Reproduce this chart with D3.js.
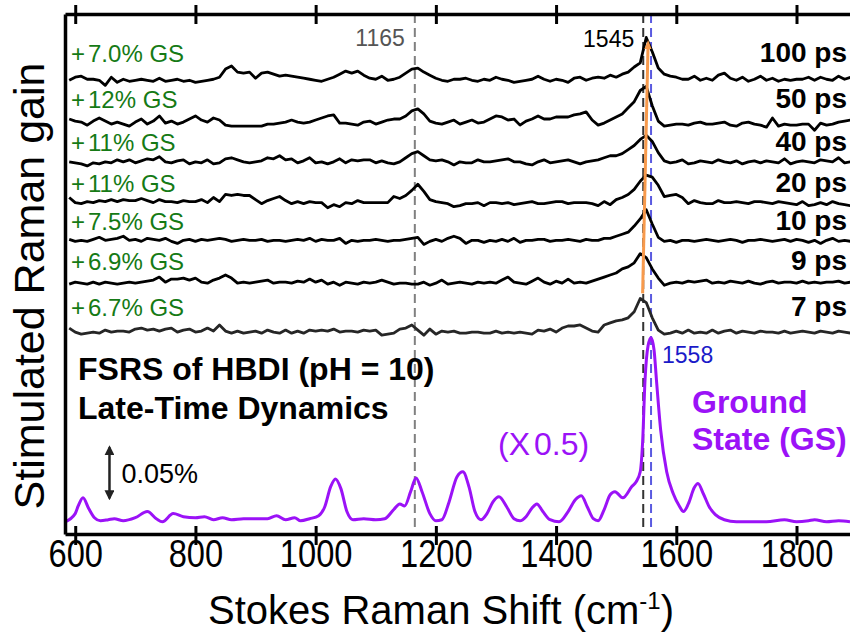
<!DOCTYPE html>
<html>
<head>
<meta charset="utf-8">
<script src="https://cdn.jsdelivr.net/npm/d3@7"></script>
<style>
  body { margin: 0; background: #fff; }
  text { font-family: "Liberation Sans", Arial, Helvetica, sans-serif; }
</style>
</head>
<body>
<svg id="chart" width="850" height="640"></svg>
<script>
// ---- data -------------------------------------------------------------
// Raman shift sampling grid (cm^-1) shared by the transient spectra
const shiftGrid = d3.range(590, 1891, 10);

// delay labels, top to bottom
const delays = ["100 ps", "50 ps", "40 ps", "20 ps", "10 ps", "9 ps", "7 ps"];
// ground-state fraction added back to each transient spectrum
const gsAdded = ["+7.0% GS", "+12% GS", "+11% GS", "+11% GS", "+7.5% GS", "+6.9% GS", "+6.7% GS"];
// vertical stacking offsets (gain, 10^-3 %)
const offsets = [433, 392, 352, 313, 275, 234, 185];
// gain level at which each row's labels sit
const labelLevel = [451, 406, 364, 323, 286, 247, 202];

// transient spectra, gain in 10^-3 %, one value per grid point (590 ... 1890)
const t100 = [
  0, 3, 4, 1, 1, 0, -5, 3, -2, 1,
  -1, 0, 1, 0, -1, 2, -1, 0, 1, -1,
  0, -2, -1, 0, 1, 3, 11, 14, 8, 7,
  8, 2, 7, 8, 6, 4, 5, 4, 3, 2,
  1, 0, -1, 1, 3, 6, 9, 7, 9, 5,
  2, 1, 4, 0, 1, 3, 7, 11, 12, 8,
  5, 2, 0, -1, 1, 1, 2, 0, -1, 1,
  0, 3, 1, 0, -2, -1, 0, 1, 4, 1,
  -1, 1, 0, -2, 2, 3, 0, 2, 3, 2,
  5, 3, 6, 8, 13, 17, 42, 28, 12, 6,
  4, 3, 1, 1, 4, 0, 2, 0, 5, 7,
  2, 0, 3, -1, 1, 4, 0, 2, -1, 1,
  0, 1, 1, 3, 0, 3, 1, 0, 4, 1,
  3
];
const t50 = [
  3, 1, 0, -3, 1, 4, 1, -2, 0, -2,
  -4, 0, 3, -2, 1, 6, -1, 1, -2, 0,
  3, 6, 2, 0, 4, 2, -3, -4, -4, -4,
  -4, -4, -4, -2, -2, -1, 0, 2, 0, -1,
  0, 2, 4, 6, 7, -1, -1, -2, -3, 0,
  1, -2, 0, 2, 3, 3, 6, 11, 13, 8,
  1, -1, -2, 0, 2, -2, 0, 2, -1, 0,
  3, 6, 5, 2, 3, -3, 1, 3, 6, 3,
  3, 5, 5, 5, 7, 8, 10, 2, -3, -1,
  2, 5, 8, 14, 20, 31, 35, 16, 1, -4,
  -3, -2, -2, -3, -1, 0, -2, -2, -1, 0,
  -3, -4, -1, 0, -2, -3, -5, 4, -4, -2,
  -3, -3, -2, -2, -8, -1, -3, -2, 0, 1,
  2
];
const t40 = [
  1, 0, -1, -3, 0, -1, 1, 0, 3, 1,
  3, 0, 2, 4, 3, 6, 1, 0, 2, 3,
  -1, 1, 0, 3, -1, 0, 4, 5, 3, 1,
  0, 1, 2, 5, 4, 7, 3, 4, 0, 2,
  5, 0, 1, -1, 1, 4, 0, 3, 2, 3,
  3, 0, 2, 0, -1, 1, 5, 9, 11, 7,
  3, 2, 3, 1, -2, 1, 0, 0, 3, 1,
  1, 2, 3, 4, 1, 1, -1, -2, 1, 3,
  0, 1, 2, 3, 1, -1, 1, 2, 3, 5,
  7, 7, 9, 13, 17, 23, 27, 21, 10, 2,
  0, 1, 3, -1, 0, 2, 1, 0, 3, 1,
  0, 2, -1, 1, 2, 0, 2, 1, 0, 4,
  -1, 1, 2, 1, 0, 3, 2, 1, 5, 0,
  1
];
const t20 = [
  5, 0, -1, 1, 0, 2, 1, 3, 1, 3,
  2, 2, 4, 2, 0, 3, 1, 1, 0, 2,
  1, 1, 3, 0, 5, 1, 8, 7, 8, 7,
  7, 3, -1, 2, 4, 6, 2, -1, 1, -1,
  1, 0, 0, -5, -2, -4, 0, -1, 2, 0,
  0, 0, 0, 0, 6, 4, 7, 12, 18, 11,
  3, 1, 0, -1, -4, -3, -1, -1, 0, -3,
  0, 0, -1, 0, -2, -1, 0, 1, -1, -1,
  0, 1, 1, -1, 0, 0, 0, -1, -3, 1,
  -2, 3, 5, 8, 13, 21, 27, 25, 17, 6,
  7, 8, 5, -1, 2, 0, -1, -1, 2, 0,
  0, 1, 0, -1, 1, 1, 0, -1, 1, 0,
  -1, -2, 1, -3, -2, 0, -2, 1, -1, -2,
  -3
];
const t10 = [
  2, 0, 1, 0, 2, 4, 1, 2, 3, 5,
  1, 2, 0, 3, 2, 1, 3, 0, -2, 1,
  2, 0, 2, 1, 2, 3, 2, 0, 1, 2,
  1, 1, 2, 0, 1, 1, 0, 1, 2, 1,
  3, 0, 2, 1, 1, 3, -2, 1, 0, 1,
  1, 2, 1, 0, 1, 1, 2, 3, 4, -3,
  0, 2, 0, 3, 5, 3, -2, 1, 1, -1,
  1, 0, 2, 0, 3, -1, 1, 1, 2, 2,
  0, 1, 1, 2, 1, 0, 2, 1, 1, 3,
  3, 5, 7, 9, 15, 22, 31, 17, 4, 0,
  1, -1, 1, 1, 0, 1, 2, 1, 0, 1,
  2, 1, -1, 1, 1, 2, 1, 0, 1, 2,
  0, 2, 1, -1, 1, -2, 1, 3, 0, 1,
  0
];
const t9 = [
  -1, 1, 0, -1, 1, -1, 1, 0, -1, 0,
  1, 0, 1, 2, 3, 6, 1, 4, 4, 5,
  3, 5, 1, 0, 3, 5, 8, 5, 0, 1,
  0, 1, 2, 3, 0, 1, 1, 0, 2, 1,
  4, 1, 3, -1, 1, -2, 1, 0, -1, 1,
  0, 1, 3, 1, -1, 0, 0, -1, -1, 1,
  -2, 0, 3, -1, 0, 1, 0, -1, 1, 0,
  1, 0, 3, 6, 1, 0, -1, 2, 5, 1,
  -1, 2, 0, 4, 0, 1, 0, 2, 4, 6,
  8, 10, 14, 16, 20, 29, 25, 14, 5, -2,
  0, 1, 0, 2, 1, 2, 3, 0, 1, 0,
  2, 1, 0, 2, 0, -1, 1, 2, 0, 1,
  1, 0, 2, 0, 1, 0, 1, 1, 2, 0,
  1
];
const t7 = [
  5, 1, -1, 0, 1, 0, 3, 1, 2, 2,
  1, 4, 5, 3, 4, 2, 4, 5, 1, 3,
  4, 1, 2, 5, 2, 8, 2, 0, 2, 0,
  1, 2, 0, 3, 1, 0, 3, 0, 2, 0,
  3, 2, 3, 2, 4, 1, 2, 2, 1, 3,
  2, 3, -2, -1, 0, 4, 5, 8, 3, -2,
  4, -1, 2, 1, 2, 0, 0, 1, 1, 0,
  0, 2, 0, 1, 0, 1, 0, -1, 3, 2,
  4, 1, 5, 7, 7, 8, 5, 2, 1, 8,
  10, 12, 13, 15, 21, 34, 30, 15, 3, -1,
  0, 2, 0, 3, 0, 1, 0, 3, 0, 2,
  3, 0, 2, 1, 0, 2, 1, 1, 0, 2,
  0, 1, 2, 1, 0, 2, 1, 0, 2, 1,
  0
];
const transients = [t100, t50, t40, t20, t10, t9, t7];

// ground-state FSRS spectrum (gain, 10^-3 %), plotted scaled by gsScale
const gsShift = [
  583, 600, 605, 613, 622, 632, 642, 655, 665, 680,
  700, 720, 735, 745, 763, 780, 800, 815, 830, 845,
  860, 880, 900, 920, 935, 950, 965, 975, 990, 1005,
  1015, 1025, 1033, 1042, 1052, 1062, 1080, 1100, 1115, 1130,
  1140, 1148, 1158, 1167, 1177, 1190, 1200, 1210, 1222, 1235,
  1245, 1255, 1265, 1275, 1285, 1295, 1305, 1318, 1330, 1340,
  1350, 1360, 1368, 1378, 1390, 1405, 1420, 1432, 1442, 1452,
  1462, 1470, 1480, 1490, 1498, 1511, 1526, 1533, 1540, 1544,
  1548, 1553, 1558, 1563, 1567, 1574, 1584, 1595, 1605, 1612,
  1620, 1630, 1636, 1645, 1655, 1665, 1680, 1700, 1750, 1780,
  1800, 1820, 1830, 1850, 1870, 1889
];
const gsGain = [
  0, 16, 31, 47, 27, 8, 2, 4, 6, 2,
  8, 20, 6, 0, 16, 10, 8, 10, 4, 8,
  4, 6, 6, 6, 12, 4, 8, 2, 6, 12,
  29, 69, 84, 65, 20, 4, 6, 4, 6, 24,
  35, 31, 59, 86, 59, 16, 2, 4, 39, 88,
  98, 69, 20, 4, 16, 39, 49, 29, 6, 2,
  10, 27, 35, 20, 4, 0, 20, 43, 51, 29,
  6, 2, 24, 53, 59, 47, 69, 78, 98, 157,
  278, 345, 361, 337, 278, 180, 98, 55, 31, 20,
  35, 67, 75, 55, 29, 14, 4, 0, 0, 4,
  0, 2, 4, 0, 2, 0
];
const gsScale = 0.5;

const xTicks = [600, 800, 1000, 1200, 1400, 1600, 1800];
// reference band positions (cm^-1)
const bandGray = 1165, bandExcited = 1545, bandGround = 1558;
// frequency blue-shift of the excited-state band across the delays
const bandShift = { from: [1544, 224], to: [1553, 468] };
// scale bar: 0.05 % gain
const scaleBar = { shift: 657, low: 23, high: 73, label: "0.05%" };

// ---- scales -----------------------------------------------------------
const svg = d3.select("#chart");
const x = d3.scaleLinear().domain([583, 1889]).range([65, 850]);
const y = d3.scaleLinear().domain([-12, 498]).range([534, 14]);
const [plotLeft, plotRight] = x.range();
const [plotBottom, plotTop] = y.range();

const defs = svg.append("defs");
defs.append("clipPath").attr("id", "plot-clip")
  .append("rect").attr("x", plotLeft).attr("y", plotTop)
  .attr("width", plotRight - plotLeft).attr("height", plotBottom - plotTop);

defs.append("marker").attr("id", "orange-head")
  .attr("viewBox", "0 0 10 10").attr("refX", 5).attr("refY", 5)
  .attr("markerWidth", 9).attr("markerHeight", 9)
  .attr("markerUnits", "userSpaceOnUse").attr("orient", "auto")
  .append("path").attr("d", "M0,1 L10,5 L0,9 Z").attr("fill", "#f79a4c");

defs.append("marker").attr("id", "bar-head")
  .attr("viewBox", "0 0 10 10").attr("refX", 8).attr("refY", 5)
  .attr("markerWidth", 10).attr("markerHeight", 10)
  .attr("markerUnits", "userSpaceOnUse").attr("orient", "auto-start-reverse")
  .append("path").attr("d", "M0,0 L10,5 L0,10 Z").attr("fill", "#222");

const plot = svg.append("g").attr("clip-path", "url(#plot-clip)");

// ---- reference band markers ----------------------------------------------
const dashed = [
  { v: bandGray, color: "#808080" },
  { v: bandExcited, color: "#333333" },
  { v: bandGround, color: "#5a5ae0" }
];
plot.selectAll("line.band").data(dashed).join("line")
  .attr("class", "band")
  .attr("x1", d => x(d.v)).attr("x2", d => x(d.v))
  .attr("y1", y(498)).attr("y2", y(-8))
  .attr("stroke", d => d.color).attr("stroke-width", 2)
  .attr("stroke-dasharray", "9,5");

// ---- transient spectra --------------------------------------------------
transients.forEach((vals, k) => {
  const line = d3.line()
    .x((d, i) => x(shiftGrid[i]))
    .y(d => y(d + offsets[k]));
  plot.append("path").datum(vals)
    .attr("d", line)
    .attr("fill", "none")
    .attr("stroke", k === transients.length - 1 ? "#262626" : "#000")
    .attr("stroke-width", 2.8)
    .attr("stroke-linejoin", "round");
});

// ---- ground-state spectrum ------------------------------------------------
const gsLine = d3.line()
  .curve(d3.curveMonotoneX)
  .x((d, i) => x(gsShift[i]))
  .y(d => y(d * gsScale));
plot.append("path").datum(gsGain)
  .attr("d", gsLine)
  .attr("fill", "none")
  .attr("stroke", "#9b12f7")
  .attr("stroke-width", 3);

// ---- band shift arrow -----------------------------------------------------
svg.append("line")
  .attr("x1", x(bandShift.from[0])).attr("y1", y(bandShift.from[1]))
  .attr("x2", x(bandShift.to[0])).attr("y2", y(bandShift.to[1]))
  .attr("stroke", "#f79a4c").attr("stroke-width", 3)
  .attr("marker-end", "url(#orange-head)");

// ---- axes -------------------------------------------------------------------
const topAxis = svg.append("g").attr("transform", `translate(0,${plotTop})`)
  .call(d3.axisTop(x).tickValues(xTicks).tickSize(9).tickSizeOuter(0).tickFormat(""));
topAxis.selectAll(".tick line").attr("y1", 10).attr("y2", -9);

const bottomAxis = svg.append("g").attr("transform", `translate(0,${plotBottom})`)
  .call(d3.axisBottom(x).tickValues(xTicks).tickSize(11).tickSizeOuter(0)
    .tickFormat(d3.format("d")));
bottomAxis.selectAll(".tick line").attr("y1", -8).attr("y2", 11);
bottomAxis.selectAll(".tick text")
  .attr("y", 0).attr("dy", null)
  .attr("transform", "translate(0,33) scale(0.86,1)")
  .attr("font-size", 38).attr("fill", "#000");

svg.append("g").attr("transform", `translate(${plotLeft},0)`)
  .call(d3.axisLeft(y).tickValues([]).tickSizeOuter(0));

svg.selectAll(".domain").attr("stroke", "#000").attr("stroke-width", 3.5);
svg.selectAll(".tick line").attr("stroke", "#000").attr("stroke-width", 3);
svg.selectAll("g").attr("font-family", null);

// axis titles
const xTitle = svg.append("text")
  .attr("x", 441).attr("y", 624)
  .attr("text-anchor", "middle").attr("font-size", 40).attr("fill", "#000");
xTitle.append("tspan").text("Stokes Raman Shift (cm");
xTitle.append("tspan").attr("dy", -15).attr("font-size", 24).text("-1");
xTitle.append("tspan").attr("dy", 15).text(")");

svg.append("text")
  .attr("transform", "translate(44,286) rotate(-90)")
  .attr("text-anchor", "middle").attr("font-size", 43).attr("fill", "#000")
  .text("Stimulated Raman gain");

// ---- labels -----------------------------------------------------------------
const gsLabels = svg.selectAll("text.gs").data(gsAdded).join("text")
  .attr("class", "gs")
  .attr("x", 71).attr("y", (d, i) => y(labelLevel[i]))
  .attr("font-size", 24).attr("fill", "#157a15");
gsLabels.append("tspan").text(d => d.slice(0, 1));
gsLabels.append("tspan").attr("dx", 3).text(d => d.slice(1));

svg.selectAll("text.delay").data(delays).join("text")
  .attr("class", "delay")
  .attr("x", 847).attr("y", (d, i) => y(labelLevel[i]))
  .attr("text-anchor", "end")
  .attr("font-size", 28).attr("font-weight", "bold").attr("fill", "#000")
  .text(d => d);

svg.append("text").attr("x", x(bandGray) - 10).attr("y", 46)
  .attr("text-anchor", "end").attr("font-size", 23).attr("fill", "#555")
  .text(bandGray);
svg.append("text").attr("x", x(bandExcited) - 9).attr("y", 47)
  .attr("text-anchor", "end").attr("font-size", 23).attr("fill", "#000")
  .text(bandExcited);
svg.append("text").attr("x", x(bandGround) + 11).attr("y", 363)
  .attr("font-size", 23).attr("fill", "#1a1ac8")
  .text(bandGround);

svg.append("text").attr("x", 78).attr("y", 380)
  .attr("font-size", 32).attr("font-weight", "bold").attr("fill", "#000")
  .text("FSRS of HBDI (pH = 10)");
svg.append("text").attr("x", 78).attr("y", 419)
  .attr("font-size", 32).attr("font-weight", "bold").attr("fill", "#000")
  .text("Late-Time Dynamics");

// scale bar
svg.append("line")
  .attr("x1", x(scaleBar.shift)).attr("x2", x(scaleBar.shift))
  .attr("y1", y(scaleBar.low)).attr("y2", y(scaleBar.high))
  .attr("stroke", "#222").attr("stroke-width", 2.5)
  .attr("marker-start", "url(#bar-head)").attr("marker-end", "url(#bar-head)");
svg.append("text").attr("x", x(scaleBar.shift) + 12).attr("y", 483)
  .attr("font-size", 27).attr("fill", "#000").text(scaleBar.label);

// ground-state annotations
const scaleText = svg.append("text").attr("x", 498).attr("y", 455)
  .attr("font-size", 32).attr("fill", "#9b12f7");
scaleText.append("tspan").text("(X");
scaleText.append("tspan").attr("dx", 4).text(gsScale + ")");

svg.append("text").attr("x", 692).attr("y", 413)
  .attr("font-size", 32).attr("font-weight", "bold").attr("fill", "#9b12f7")
  .text("Ground");
svg.append("text").attr("x", 692).attr("y", 450)
  .attr("font-size", 32).attr("font-weight", "bold").attr("fill", "#9b12f7")
  .text("State (GS)");
</script>
</body>
</html>
